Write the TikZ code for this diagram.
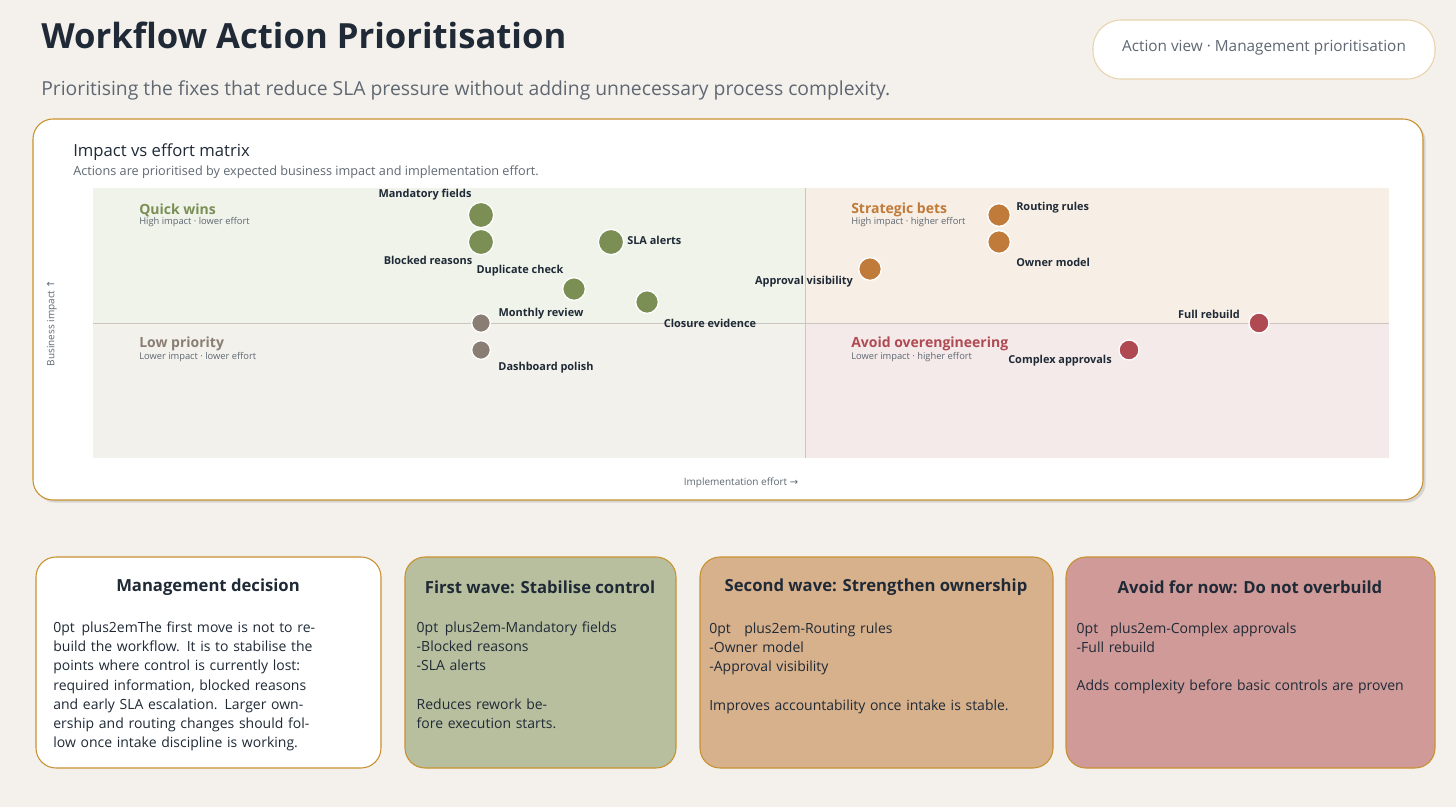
\documentclass[tikz,border=0pt]{standalone}
\usepackage{fontspec}
\setmainfont{Open Sans}
\newfontfamily\symfont{DejaVu Sans}
\usetikzlibrary{shadows}
\definecolor{pagebg}{HTML}{F4F1EC}
\definecolor{ink}{HTML}{1F2A36}
\definecolor{muted}{HTML}{5F6872}
\definecolor{frame}{HTML}{C8912F}
\definecolor{qwin}{HTML}{7B8F55}
\definecolor{qbet}{HTML}{C07A3A}
\definecolor{qlow}{HTML}{8A7E74}
\definecolor{qavoid}{HTML}{B04A52}
\definecolor{fillTL}{HTML}{EFF3EA}
\definecolor{fillTR}{HTML}{F7EFE6}
\definecolor{fillBL}{HTML}{F3F1EC}
\definecolor{fillBR}{HTML}{F4EAEA}
\definecolor{wave1}{HTML}{B8BF9F}
\definecolor{wave2}{HTML}{D7B08C}
\definecolor{wave3}{HTML}{CF9A98}
\tikzset{
    dot/.style={circle, draw=white, line width=1pt, inner sep=0pt, minimum size=#1},
    lbl/.style={font=\fontsize{8.2}{10}\selectfont\bfseries, text=ink, inner sep=0pt},
    qtitle/.style={font=\fontsize{10.5}{12}\selectfont\bfseries, anchor=west, inner sep=0pt},
    qsub/.style={font=\fontsize{7}{8}\selectfont, text=muted, anchor=west, inner sep=0pt},
    card/.style={draw=frame, line width=0.8pt, rounded corners=15pt},
    cardtitle/.style={font=\fontsize{12.5}{14}\selectfont\bfseries, text=ink},
    cardbody/.style={font=\fontsize{10.5}{14.4}\selectfont\hyphenpenalty=10000, text=ink, align=center, text width=#1}
}
\begin{document}
\begin{tikzpicture}[x=0.75pt, y=-0.75pt]
    \fill[pagebg] (0,0) rectangle (1456,807);
    \useasboundingbox (0,0) rectangle (1456,807);
    % header
    \node[anchor=west, inner sep=0pt, font=\fontsize{26}{30}\selectfont\bfseries, text=ink] (title) at (41,35) {Workflow Action Prioritisation};
    \node[anchor=west, inner sep=0pt, font=\fontsize{14.5}{17}\selectfont, text=muted] (subtitle) at (41,90) {Prioritising the fixes that reduce SLA pressure without adding unnecessary process complexity.};
    \draw[fill=white, draw=frame!40, line width=0.8pt, rounded corners=21pt] (1093,20) rectangle (1435,79);
    \node[font=\fontsize{11.5}{14}\selectfont, text=muted] (view) at (1264,48) {Action view · Management prioritisation};
    % matrix card
    \draw[card, fill=white, drop shadow={opacity=0.25, shadow xshift=2pt, shadow yshift=-2pt}] (33,119) rectangle (1423,500);
    \node[anchor=west, inner sep=0pt, font=\fontsize{12.5}{14}\selectfont, text=ink] (mtitle) at (73,152) {Impact vs effort matrix};
    \node[anchor=west, inner sep=0pt, font=\fontsize{9.5}{11}\selectfont, text=muted] (msub) at (73,172) {Actions are prioritised by expected business impact and implementation effort.};
    \fill[fillTL] (93,188) rectangle (805,323);
    \fill[fillTR] (805,188) rectangle (1389,323);
    \fill[fillBL] (93,323) rectangle (805,458);
    \fill[fillBR] (805,323) rectangle (1389,458);
    \draw[qlow!45, line width=0.6pt] (93,323) -- (1389,323);
    \draw[qlow!45, line width=0.6pt] (805,188) -- (805,458);
    \node[rotate=90, font=\fontsize{7.5}{9}\selectfont, text=muted] (yaxis) at (52,323) {Business impact {\symfont ↑}};
    \node[font=\fontsize{7.5}{9}\selectfont, text=muted] (xaxis) at (741,483) {Implementation effort {\symfont →}};
    % quadrant labels
    \node[qtitle, text=qwin] (qw) at (139,210) {Quick wins};
    \node[qsub] at (139,222) {High impact · lower effort};
    \node[qtitle, text=qlow] (lp) at (139,344) {Low priority};
    \node[qsub] at (139,357) {Lower impact · lower effort};
    \node[qtitle, text=qbet] (sb) at (851,210) {Strategic bets};
    \node[qsub] at (851,222) {High impact · higher effort};
    \node[qtitle, text=qavoid] (ao) at (851,344) {Avoid overengineering};
    \node[qsub] at (851,357) {Lower impact · higher effort};
    % actions
    \node[dot=19, fill=qwin] (mand) at (481,215) {};
    \node[lbl] at (425,195) {Mandatory fields};
    \node[dot=19, fill=qwin] (block) at (481,242) {};
    \node[lbl] at (428,260) {Blocked reasons};
    \node[dot=19, fill=qwin] (sla) at (611,242) {};
    \node[lbl, anchor=west] at (627,240) {SLA alerts};
    \node[dot=17, fill=qwin] (dup) at (574,289) {};
    \node[lbl] at (520,271) {Duplicate check};
    \node[dot=17, fill=qwin] (close) at (647,302) {};
    \node[lbl] at (710,323) {Closure evidence};
    \node[dot=14, fill=qlow] (month) at (481,323) {};
    \node[lbl] at (541,314) {Monthly review};
    \node[dot=14, fill=qlow] (dash) at (481,350) {};
    \node[lbl] at (546,368) {Dashboard polish};
    \node[dot=17, fill=qbet] (appr) at (870,269) {};
    \node[lbl] at (804,282) {Approval visibility};
    \node[dot=17, fill=qbet] (route) at (999,215) {};
    \node[lbl, anchor=west] at (1016,208) {Routing rules};
    \node[dot=17, fill=qbet] (owner) at (999,242) {};
    \node[lbl, anchor=west] at (1016,262) {Owner model};
    \node[dot=15, fill=qavoid] (full) at (1259,323) {};
    \node[lbl] at (1209,314) {Full rebuild};
    \node[dot=15, fill=qavoid] (cplx) at (1129,350) {};
    \node[lbl] at (1060,361) {Complex approvals};
    % bottom cards
    \draw[card, fill=white] (36,557) rectangle (381,768);
    \node[cardtitle] (c1) at (208,587) {Management decision};
    \node[cardbody=232pt, anchor=north] at (208,617) {The first move is not to rebuild the workflow. It is to stabilise the points where control is currently lost: required information, blocked reasons and early SLA escalation. Larger ownership and routing changes should follow once intake discipline is working.};
    \draw[card, fill=wave1] (405,557) rectangle (676,768);
    \node[cardtitle] (c2) at (540,587) {First wave: Stabilise control};
    \node[cardbody=185pt, anchor=north] at (540,617) {-Mandatory fields\\-Blocked reasons\\-SLA alerts\\[14.4pt]Reduces rework before execution starts.};
    \draw[card, fill=wave2] (700,557) rectangle (1053,768);
    \node[cardtitle] (c3) at (876,587) {Second wave: Strengthen ownership};
    \node[cardbody=250pt, anchor=north] at (876,618) {-Routing rules\\-Owner model\\-Approval visibility\\[14.4pt]Improves accountability once intake is stable.};
    \draw[card, fill=wave3] (1066,557) rectangle (1435,768);
    \node[cardtitle] (c4) at (1250,587) {Avoid for now: Do not overbuild};
    \node[cardbody=260pt, anchor=north] at (1250,618) {-Complex approvals\\-Full rebuild\\[14.4pt]Adds complexity before basic controls are proven};
\end{tikzpicture}
\end{document}
